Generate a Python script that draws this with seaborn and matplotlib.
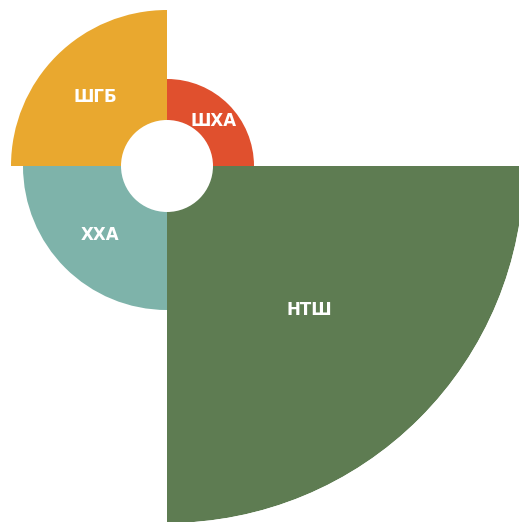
import seaborn as sns
import matplotlib.pyplot as plt
import numpy as np

# rose chart: one quarter per category, outer radius = value
categories = ["ШХА", "ШГБ", "ХХА", "НТШ"]
values = [87, 156, 144, 357]
colors = ["#E0502E", "#E9A82F", "#7EB3AA", "#5E7C52"]
hole = 46

sns.set_style("white")

fig = plt.figure(figsize=(5.19, 5.22), dpi=100)
W, H = 519, 522
cx, cy = 167, 522 - 166
rmax = max(values)
ax = fig.add_axes([(cx - rmax) / W, (cy - rmax) / H, 2 * rmax / W, 2 * rmax / H], projection="polar")

theta = np.deg2rad([45, 135, 225, 315])
heights = [v - hole for v in values]
ax.bar(theta, heights, width=np.pi / 2, bottom=hole, color=colors, edgecolor="none", linewidth=0)

for t, v, lab in zip(theta, values, categories):
    ax.text(t, (v + hole) / 2, lab, color="white", fontsize=12, fontweight="bold",
            ha="center", va="center_baseline")

ax.set_ylim(0, rmax)
ax.set_xticks([])
ax.set_yticks([])
ax.grid(False)
ax.spines["polar"].set_visible(False)
ax.set_facecolor("none")

fig.savefig("out.png", dpi=100, facecolor="white")
